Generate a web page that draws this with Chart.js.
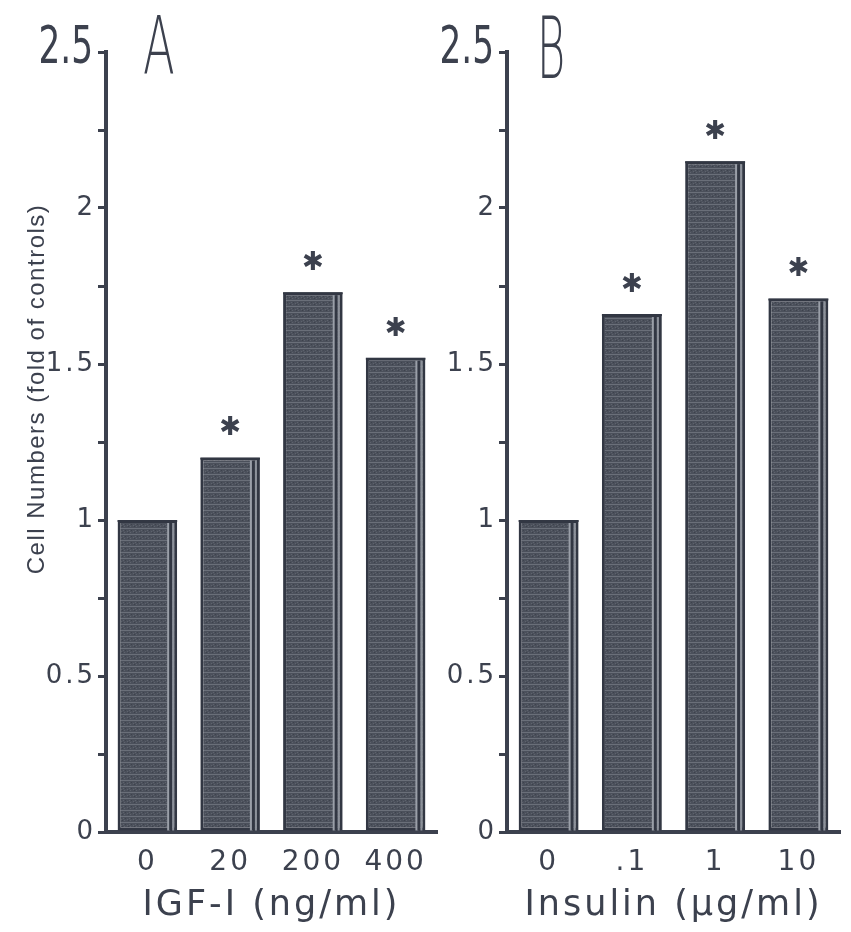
<!DOCTYPE html>
<html>
<head>
<meta charset="utf-8">
<script src="https://cdn.jsdelivr.net/npm/chart.js@4/dist/chart.umd.min.js"></script>
<style>
  html,body{margin:0;padding:0;background:#fff;}
  #wrap{position:relative;width:851px;height:932px;overflow:hidden;}
  #pa{position:absolute;left:0;top:0;}
  #pb{position:absolute;left:440px;top:0;}
</style>
</head>
<body>
<div id="wrap">
  <canvas id="pa" width="440" height="932"></canvas>
  <canvas id="pb" width="411" height="932"></canvas>
</div>
<script>
// ---- data ----
const categoriesA = ['0', '20', '200', '400'];
const valuesA = [1.0, 1.2, 1.73, 1.52];
const sigA = [false, true, true, true];

const categoriesB = ['0', '.1', '1', '10'];
const valuesB = [1.0, 1.66, 2.15, 1.71];
const sigB = [false, true, true, true];

const yTickValues = [0, 0.5, 1, 1.5, 2, 2.5];
const yTickLabels = ['0', '0.5', '1', '1.5', '2', '2.5'];
const yMinorStep = 0.25;

const xTitleA = 'IGF-I (ng/ml)';
const xTitleB = 'Insulin (\u00b5g/ml)';
const yTitle = 'Cell Numbers (fold of controls)';

const INK = '#3c414e';
const BAR_EDGE = '#323743';
const FONT = "'DejaVu Sans', 'Liberation Sans', sans-serif";
const FONT2 = "'Liberation Sans', Arial, sans-serif";

function makePattern(ctx) {
  const c = document.createElement('canvas');
  c.width = 6; c.height = 6;
  const g = c.getContext('2d');
  g.fillStyle = '#4b505b'; g.fillRect(0, 0, 6, 6);
  g.fillStyle = '#6a6f79'; g.fillRect(0, 0, 6, 1);
  g.fillStyle = '#5e636d'; g.fillRect(1, 3, 1, 1); g.fillRect(4, 4, 1, 1); g.fillRect(3, 2, 1, 1);
  g.fillStyle = '#3d424c'; g.fillRect(2, 4, 1, 1); g.fillRect(5, 2, 1, 1);
  return ctx.createPattern(c, 'repeat');
}

const spacingPlugin = {
  id: 'spacing',
  beforeDraw(chart) { chart.ctx.letterSpacing = '3px'; }
};

const decorPlugin = {
  id: 'decor',
  afterDatasetsDraw(chart, args, opts) {
    const ctx = chart.ctx;
    const meta = chart.getDatasetMeta(0);
    ctx.save();
    meta.data.forEach((el, i) => {
      const p = el.getProps(['x', 'y', 'base', 'width'], true);
      const right = p.x + p.width / 2;
      const h = p.base - p.y - 3;
      ctx.fillStyle = BAR_EDGE;
      ctx.fillRect(p.x - p.width / 2, p.y, p.width, 2);
      ctx.fillStyle = '#9a9fa8';
      ctx.fillRect(right - 10, p.y + 3, 3, h);
      ctx.fillStyle = BAR_EDGE;
      ctx.fillRect(right - 8, p.y + 3, 3, h);
      ctx.fillStyle = '#8d929b';
      ctx.fillRect(right - 5, p.y + 3, 2, h);
      if (opts.sig[i]) {
        ctx.fillStyle = INK;
        ctx.font = "bold 26px " + FONT;
        ctx.textAlign = 'center';
        ctx.textBaseline = 'middle';
        ctx.letterSpacing = '0px';
        ctx.fillText('\u2731', p.x, p.y - 29);
      }
    });
    ctx.restore();
  },
  afterDraw(chart, args, opts) {
    const ctx = chart.ctx;
    const ys = chart.scales.y;
    ctx.save();
    ctx.fillStyle = INK;
    ctx.letterSpacing = '0px';
    // top tick label 2.5 (condensed)
    const yTop = ys.getPixelForValue(yTickValues[yTickValues.length - 1]);
    ctx.save();
    ctx.translate(ys.right - 13, yTop - 3);
    ctx.scale(0.66, 1);
    ctx.font = "52px " + FONT;
    ctx.textAlign = 'right';
    ctx.textBaseline = 'middle';
    ctx.fillText(yTickLabels[yTickLabels.length - 1], 0, 0);
    ctx.restore();
    // panel letter
    ctx.save();
    ctx.translate(opts.letterX, opts.letterBase);
    ctx.scale(opts.letterScale, 1);
    ctx.font = "200 " + opts.letterSize + "px " + FONT;
    ctx.textAlign = 'left';
    ctx.textBaseline = 'alphabetic';
    ctx.fillText(opts.letter, 0, 0);
    ctx.restore();
    // y title
    if (opts.yTitle) {
      ctx.save();
      ctx.translate(37, 389);
      ctx.rotate(-Math.PI / 2);
      ctx.font = "24px " + FONT2;
      ctx.letterSpacing = '1.5px';
      ctx.textAlign = 'center';
      ctx.textBaseline = 'middle';
      ctx.fillText(opts.yTitle, 0, 0);
      ctx.restore();
    }
    ctx.restore();
  }
};

function buildChart(canvasId, cats, vals, sig, xTitle, yAxisWidth, padRight, letter, letterX, letterBase, letterSize, letterScale, showYTitle) {
  const canvas = document.getElementById(canvasId);
  const ctx = canvas.getContext('2d');
  const pattern = makePattern(ctx);
  return new Chart(ctx, {
    type: 'bar',
    data: {
      labels: cats,
      datasets: [{
        data: vals,
        backgroundColor: pattern,
        borderColor: BAR_EDGE,
        borderWidth: 3,
        borderSkipped: false,
        barPercentage: 0.72,
        categoryPercentage: 1.0
      }]
    },
    options: {
      responsive: false,
      animation: false,
      devicePixelRatio: 1,
      layout: { padding: { left: 0, right: padRight, top: 52, bottom: 0 } },
      plugins: {
        legend: { display: false },
        tooltip: { enabled: false },
        decor: { sig: sig, letter: letter, letterX: letterX, letterBase: letterBase, letterSize: letterSize, letterScale: letterScale, yTitle: showYTitle ? yTitle : null }
      },
      scales: {
        x: {
          type: 'category',
          grid: { display: false, drawTicks: false },
          border: { display: true, color: INK, width: 4 },
          ticks: { color: INK, font: { family: FONT, size: 28 }, padding: 14, maxRotation: 0, autoSkip: false },
          title: { display: true, text: xTitle, color: INK, font: { family: FONT, size: 35 }, padding: { top: 0, bottom: 5 } },
          afterFit(scale) { scale.height = 100; }
        },
        y: {
          min: 0,
          max: 2.5,
          grid: { drawOnChartArea: false, drawTicks: true, tickLength: 8, color: INK, lineWidth: 3 },
          border: { display: true, color: INK, width: 4 },
          ticks: {
            stepSize: yMinorStep,
            color: INK,
            font: { family: FONT, size: 26 },
            padding: 2,
            autoSkip: false,
            callback: (v) => {
              const i = yTickValues.indexOf(v);
              if (i < 0 || i === yTickValues.length - 1) return '';
              return yTickLabels[i];
            }
          },
          afterFit(scale) { scale.width = yAxisWidth; }
        }
      }
    },
    plugins: [spacingPlugin, decorPlugin]
  });
}

buildChart('pa', categoriesA, valuesA, sigA, xTitleA, 106, 3, 'A', 143, 73, 80, 0.58, true);
buildChart('pb', categoriesB, valuesB, sigB, xTitleB, 67, 11, 'B', 537 - 440, 78, 86, 0.5, false);
</script>
</body>
</html>
